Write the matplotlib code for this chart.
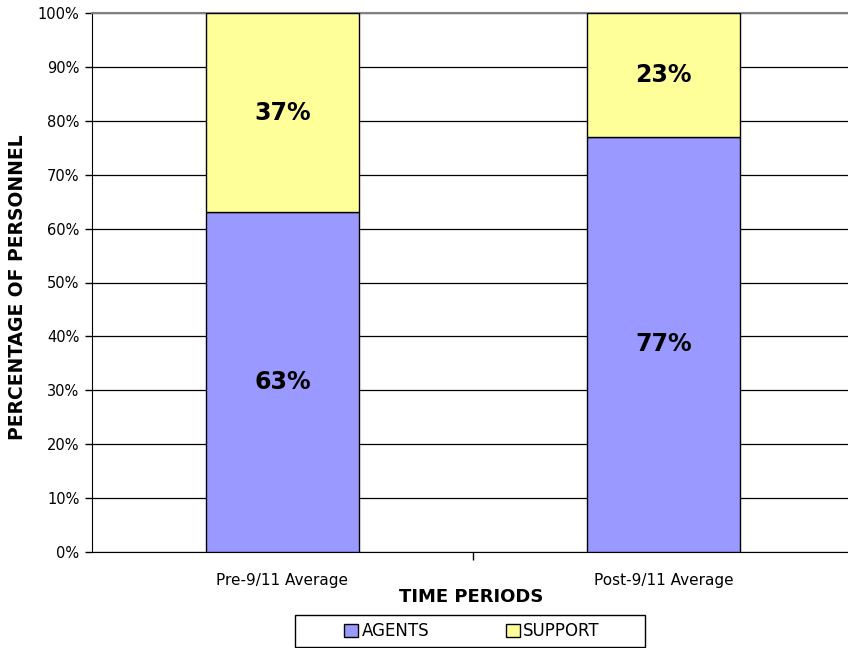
import matplotlib
matplotlib.use("Agg")
import matplotlib.pyplot as plt
from matplotlib.patches import Patch, Rectangle

categories = ["Pre-9/11 Average", "Post-9/11 Average"]
agents = [63, 77]
support = [37, 23]
series_names = ["AGENTS", "SUPPORT"]
colors = ["#9999FF", "#FFFF99"]

plt.rcParams['font.family'] = ['DejaVu Sans']

fig = plt.figure(figsize=(8.48, 6.48), dpi=100)
ax = fig.add_axes([92/848, 1-552/648, 762/848, 539/648])

x = list(range(len(categories)))
w = 0.404
ax.bar(x, agents, width=w, color=colors[0], edgecolor="black", linewidth=1, zorder=3)
ax.bar(x, support, width=w, bottom=agents, color=colors[1], edgecolor="black", linewidth=1, zorder=3)

for i in x:
    ax.text(i, agents[i]/2, f"{agents[i]}%", ha="center", va="center",
            fontsize=17, fontweight="bold", zorder=4)
    ax.text(i, agents[i] + support[i]/2, f"{support[i]}%", ha="center", va="center",
            fontsize=17, fontweight="bold", zorder=4)

ax.set_xlim(-0.5, 1.5)
ax.set_ylim(0, 100)
ax.set_yticks(range(0, 101, 10))
ax.set_yticklabels([f"{v}%" for v in range(0, 101, 10)], fontsize=10.5)
ax.yaxis.grid(True, color="black", linewidth=0.9, zorder=0)
ax.set_axisbelow(True)

ax.set_xticks(x)
ax.set_xticklabels(categories, fontsize=11)
ax.tick_params(axis="x", length=0, pad=15)
ax.set_xticks([0.5], minor=True)
ax.tick_params(axis="x", which="minor", length=6, width=1, color="black")
ax.tick_params(axis="y", length=5, width=1, color="black", pad=4)

ax.spines["right"].set_visible(False)
ax.spines["top"].set_color("#808080")
ax.spines["top"].set_linewidth(1.5)
ax.spines["left"].set_color("black")
ax.spines["bottom"].set_color("black")

fig.text(18/848, 1-287/648, "PERCENTAGE OF PERSONNEL", rotation=90, ha="center", va="center",
         fontsize=13.5, fontweight="bold")
fig.text(471/848, 1-597/648, "TIME PERIODS", ha="center", va="center",
         fontsize=13, fontweight="bold")

fig.patches.append(Rectangle((295/848, 1-647/648), 350/848, 32/648, transform=fig.transFigure,
                             facecolor="white", edgecolor="black", linewidth=1))
handles = [Patch(facecolor=colors[0], edgecolor="black"), Patch(facecolor=colors[1], edgecolor="black")]
leg = fig.legend(handles, series_names, loc="center", bbox_to_anchor=(472/848, 1-631/648),
                 ncol=2, frameon=False, fontsize=12, handlelength=0.85,
                 handleheight=0.85, handletextpad=0.2, columnspacing=4.6, borderpad=0.2)

fig.savefig("out.png", dpi=100)
